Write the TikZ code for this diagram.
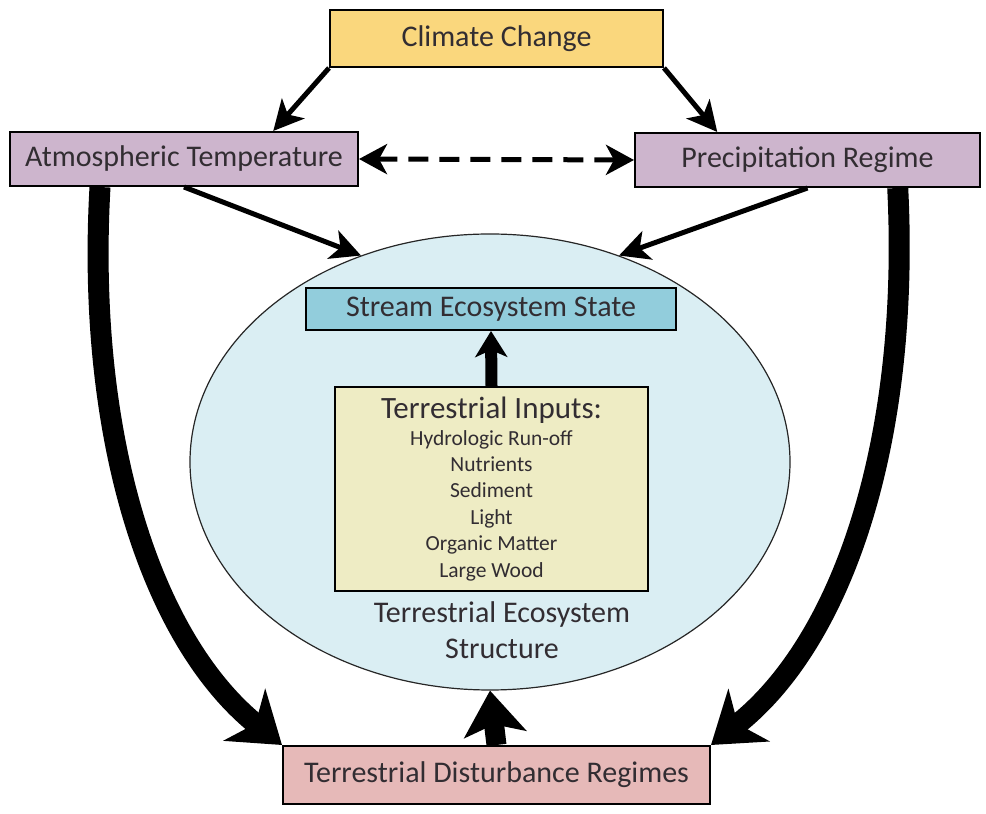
\documentclass[tikz,border=0pt]{standalone}
\usepackage{fontspec}
\setmainfont{Carlito}
\usetikzlibrary{arrows.meta,shapes.geometric,calc}

\definecolor{ccfill}{RGB}{250,215,125}
\definecolor{climfill}{RGB}{205,181,205}
\definecolor{streamfill}{RGB}{146,205,220}
\definecolor{ecofill}{RGB}{218,238,243}
\definecolor{inputfill}{RGB}{238,236,196}
\definecolor{distfill}{RGB}{230,185,184}
\definecolor{txt}{RGB}{50,45,50}

\tikzset{
  box/.style={draw=black, line width=2pt, inner sep=0pt, text=txt,
              font=\fontsize{30}{34}\selectfont},
  thinarrow/.style={line width=5pt, -{Stealth[length=30pt,width=30pt,inset=8pt]}},
  dasharrow/.style={line width=5pt, dash pattern=on 20pt off 11pt,
              {Stealth[length=28pt,width=30pt,inset=8pt]}-{Stealth[length=28pt,width=30pt,inset=8pt]}},
  bigarrow/.style={line width=21pt, -{Stealth[length=48pt,width=66pt,inset=14pt]}},
  midarrow/.style={line width=20pt, -{Stealth[length=44pt,width=62pt,inset=10pt]}},
  smallup/.style={line width=12pt, -{Stealth[length=26pt,width=32pt,inset=7pt]}},
}

\begin{document}
\begin{tikzpicture}[x=1pt,y=1pt]
\useasboundingbox (0,0) rectangle (986,814);

% ecosystem ellipse
\node[ellipse, draw=black!85, line width=1.2pt, fill=ecofill,
      minimum width=600pt, minimum height=456pt] (eco) at (490,352) {};

% boxes
\node[box, fill=ccfill, minimum width=333pt, minimum height=57pt] (cc) at (496.5,775.5) {Climate Change};
\node[box, fill=climfill, minimum width=348pt, minimum height=54pt] (at) at (184,655) {Atmospheric Temperature};
\node[box, fill=climfill, minimum width=345pt, minimum height=54pt] (pr) at (807.5,654) {Precipitation Regime};
\node[box, fill=streamfill, minimum width=370pt, minimum height=42pt] (ses) at (491,505) {Stream Ecosystem State};
\node[box, fill=inputfill, minimum width=313pt, minimum height=204pt, align=center,
      font=\fontsize{21.5}{26.4}\selectfont] (ti) at (491.5,325)
  {{\fontsize{31}{30}\selectfont Terrestrial Inputs:}\\
   Hydrologic Run-off\\ Nutrients\\ Sediment\\ Light\\ Organic Matter\\ Large Wood};
\node[text=txt, align=center, font=\fontsize{30}{36}\selectfont] (tes) at (502,184)
  {Terrestrial Ecosystem\\Structure};
\node[box, fill=distfill, minimum width=427pt, minimum height=58pt] (tdr) at (496.5,39) {Terrestrial Disturbance Regimes};

% climate change drivers
\draw[thinarrow] (cc.south west) -- ($(at.north west)!0.755!(at.north east)$);
\draw[thinarrow] (cc.south east) -- ($(pr.north west)!0.24!(pr.north east)$);
\draw[dasharrow] (at.east) -- (pr.west);

% climate to ecosystem
\draw[thinarrow] (at.south) -- (eco.122);
\draw[thinarrow] (pr.south) -- (eco.58);

% climate to disturbance regimes
\draw[bigarrow] ($(at.south west)!0.26!(at.south east)$)
   .. controls (86,380) and (150,175) .. (tdr.north west);
\draw[bigarrow] ($(pr.south west)!0.76!(pr.south east)$)
   .. controls (910,380) and (846,175) .. (tdr.north east);

% disturbance to ecosystem, inputs to stream
\draw[midarrow] (tdr.north) -- (eco.south);
\draw[smallup] (ti.north) -- (ses.south);
\end{tikzpicture}
\end{document}
